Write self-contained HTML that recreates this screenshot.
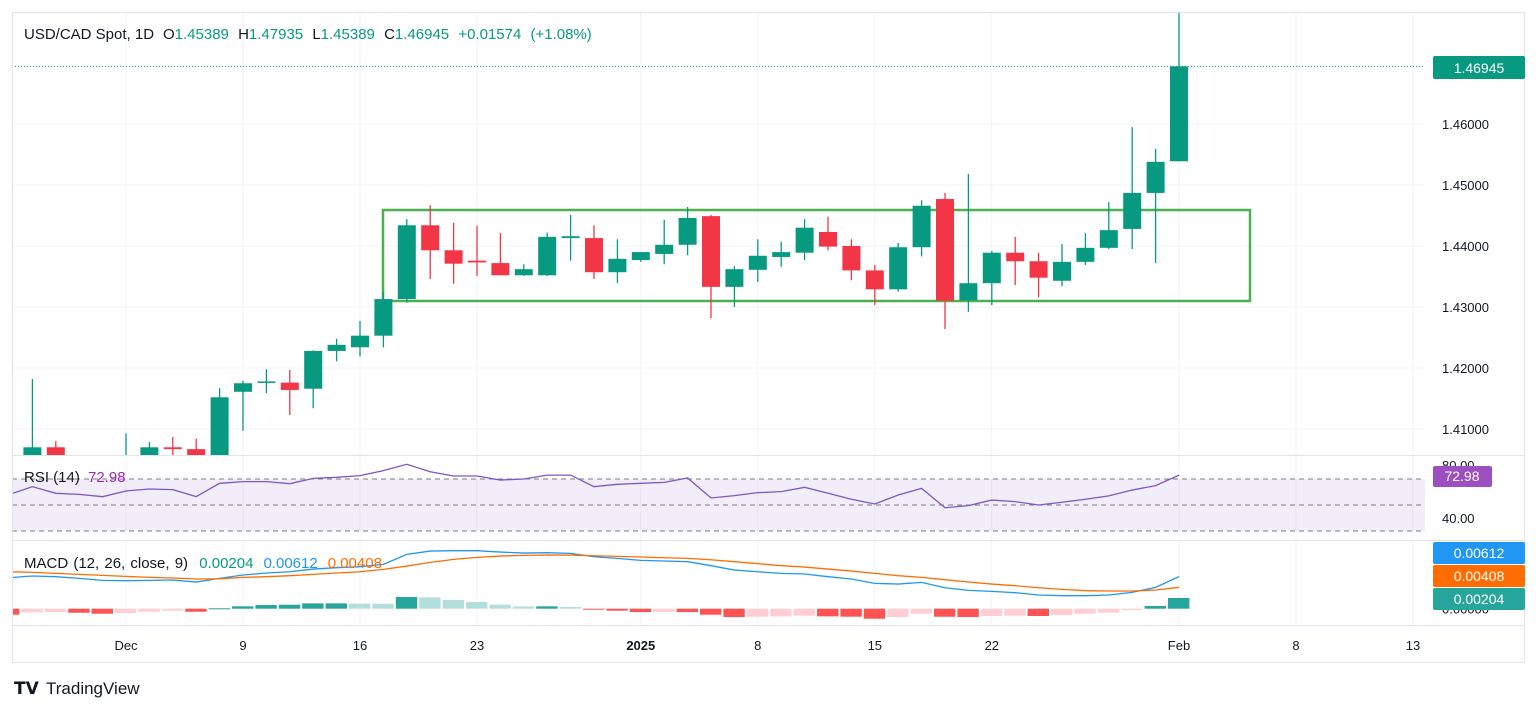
<!DOCTYPE html>
<html><head><meta charset="utf-8"><style>
html,body{margin:0;padding:0;background:#fff;width:1536px;height:711px;overflow:hidden;font-family:"Liberation Sans",sans-serif;}
svg text{font-family:"Liberation Sans",sans-serif;}
</style></head><body>
<svg id="chart" width="1536" height="711" xmlns="http://www.w3.org/2000/svg">
<defs>
<clipPath id="cpMain"><rect x="12" y="12" width="1413" height="443"/></clipPath>
<clipPath id="cpRsi"><rect x="12" y="456" width="1413" height="84"/></clipPath>
<clipPath id="cpMacd"><rect x="12" y="541" width="1413" height="84"/></clipPath>
</defs>
<g id="grid"></g>
<g id="main" clip-path="url(#cpMain)"></g>
<g id="rsi" clip-path="url(#cpRsi)"></g>
<g id="macd" clip-path="url(#cpMacd)"></g>
<g id="axes"></g>
<text x="24" y="39" font-size="15" fill="#131722">USD/CAD Spot, 1D</text>
<text x="163" y="39" font-size="15" word-spacing="5" fill="#131722"><tspan fill="#131722">O</tspan><tspan fill="#089981">1.45389</tspan> <tspan fill="#131722">H</tspan><tspan fill="#089981">1.47935</tspan> <tspan fill="#131722">L</tspan><tspan fill="#089981">1.45389</tspan> <tspan fill="#131722">C</tspan><tspan fill="#089981">1.46945</tspan> <tspan fill="#089981">+0.01574 (+1.08%)</tspan></text>
<text x="24" y="482" font-size="15" fill="#131722">RSI (14) <tspan fill="#9c27b0" dx="4">72.98</tspan></text>
<text x="24" y="568" font-size="15" word-spacing="1" fill="#131722">MACD (12, 26, close, 9) <tspan fill="#089981" dx="6">0.00204</tspan><tspan fill="#2196f3" dx="10">0.00612</tspan><tspan fill="#ff6d00" dx="10">0.00408</tspan></text>
<g>
<text x="14" y="694" font-size="17" font-weight="bold" fill="#131722">𝗧𝗩</text>
<text x="46" y="694" font-size="17" fill="#131722">TradingView</text>
</g>
</svg>
<script>
const opens=[1.4040,1.4070,1.4030,1.4010,1.4000,1.4030,1.4070,1.4067,1.4030,1.4161,1.4177,1.4176,1.4166,1.4228,1.4234,1.4253,1.4313,1.4434,1.4393,1.4376,1.4372,1.4352,1.4352,1.4413,1.4413,1.4357,1.4377,1.4387,1.4402,1.4449,1.4333,1.4361,1.4382,1.4389,1.4423,1.4400,1.4360,1.4329,1.4398,1.4477,1.4311,1.4339,1.4389,1.4375,1.4343,1.4374,1.4397,1.4428,1.4487,1.45389];
const highs=[1.4182,1.4080,1.4035,1.4030,1.4093,1.4079,1.4087,1.4084,1.4167,1.4179,1.4198,1.4197,1.4229,1.4248,1.4277,1.4325,1.4444,1.4467,1.4438,1.4433,1.4421,1.4370,1.4422,1.4451,1.4434,1.4411,1.4390,1.4443,1.4464,1.4451,1.4367,1.4411,1.4407,1.4444,1.4448,1.4411,1.4369,1.4405,1.4475,1.4487,1.4518,1.4392,1.4415,1.4389,1.4403,1.4421,1.4472,1.4595,1.4559,1.47935];
const lows=[1.4010,1.4020,1.3990,1.3985,1.3990,1.4010,1.4030,1.4020,1.4010,1.4097,1.4159,1.4123,1.4134,1.4211,1.4219,1.4234,1.4307,1.4346,1.4338,1.4351,1.4352,1.4351,1.4351,1.4376,1.4346,1.4339,1.4374,1.4370,1.4385,1.4282,1.4300,1.4341,1.4366,1.4377,1.4393,1.4344,1.4303,1.4325,1.4383,1.4264,1.4292,1.4303,1.4336,1.4316,1.4334,1.4369,1.4395,1.4395,1.4372,1.45389];
const closes=[1.4070,1.4030,1.4010,1.4000,1.4030,1.4070,1.4067,1.4030,1.4152,1.4175,1.4178,1.4164,1.4228,1.4238,1.4253,1.4313,1.4434,1.4393,1.4371,1.4373,1.4352,1.4362,1.4415,1.4416,1.4357,1.4379,1.4390,1.4402,1.4446,1.4333,1.4362,1.4384,1.4390,1.4430,1.4399,1.4360,1.4329,1.4398,1.4466,1.4310,1.4339,1.4389,1.4375,1.4348,1.4374,1.4397,1.4426,1.4487,1.4538,1.46945];
// indicator arrays start one bar earlier than candles (bar -1)
const rsiVals=[58,64.1,59,58.2,56.4,60.8,62.3,61.8,56.4,66.7,68,68,66.4,70.5,71.3,72.6,76.4,81.3,75.6,72.3,72.3,69.2,70,73,73,64.1,65.9,66.7,67.4,70.8,55.4,57.2,59.5,60.3,63.6,59,54.4,50.8,57.7,62.8,47.9,49.5,53.8,52.6,50,52.1,54.4,57,61.5,64.9,72.98];
const macdVals=[0.00591,0.00623,0.00610,0.00578,0.00540,0.00534,0.00540,0.00547,0.00508,0.00578,0.00642,0.00680,0.00705,0.00756,0.00782,0.00801,0.00845,0.01036,0.01099,0.01106,0.01106,0.01080,0.01061,0.01068,0.01055,0.00991,0.00960,0.00921,0.00909,0.00896,0.00820,0.00737,0.00705,0.00674,0.00661,0.00610,0.00566,0.00483,0.00470,0.00502,0.00400,0.00350,0.00330,0.00305,0.00261,0.00248,0.00248,0.00261,0.00311,0.00407,0.00612];
const signalVals=[0.00705,0.00693,0.00674,0.00655,0.00636,0.00616,0.00597,0.00585,0.00566,0.00570,0.00597,0.00610,0.00629,0.00655,0.00680,0.00705,0.00750,0.00813,0.00883,0.00940,0.00979,0.01004,0.01017,0.01023,0.01023,0.01010,0.00998,0.00985,0.00972,0.00960,0.00934,0.00896,0.00858,0.00820,0.00794,0.00756,0.00718,0.00674,0.00629,0.00597,0.00553,0.00509,0.00470,0.00439,0.00400,0.00369,0.00343,0.00337,0.00337,0.00356,0.00408];
const priceTicks=[1.46,1.45,1.44,1.43,1.42,1.41];
const timeLabels=["Dec","9","16","23","2025","8","15","22","Feb","8","13"];
const timeLabelIdx=[4,9,14,19,26,31,36,41,49,54,59];

const NS="http://www.w3.org/2000/svg";
function mk(tag,attrs,parent){const e=document.createElementNS(NS,tag);for(const k in attrs)e.setAttribute(k,attrs[k]);parent.appendChild(e);return e;}
const xOf=i=>32.4+i*23.4;
const xInd=i=>xOf(i-1);
const yP=p=>124+(1.46-p)*6100;
const yR=v=>479-(v-70)*1.3;
const yM=v=>608.7-v*5245;
const G=document.getElementById('grid'),M=document.getElementById('main'),R=document.getElementById('rsi'),D=document.getElementById('macd'),A=document.getElementById('axes');

let fr=mk('rect',{x:12.5,y:12.5,width:1512,height:650,fill:'none',stroke:'#e0e3eb'},A);


timeLabelIdx.forEach((idx,k)=>{
  const gl=mk('line',{x1:xOf(idx),x2:xOf(idx),y1:12,y2:625,stroke:'#f0f3fa'},G);
  
  
  const t=mk('text',{x:xOf(idx),y:650,'text-anchor':'middle','font-size':13,fill:'#131722','font-weight':timeLabels[k]==='2025'?'bold':'normal'},A);
  t.textContent=timeLabels[k];
  
  
});
priceTicks.forEach(p=>{
  const gl=mk('line',{x1:12,x2:1425,y1:yP(p),y2:yP(p),stroke:'#f0f3fa'},G);
  
  
  const t=mk('text',{x:1442,y:yP(p)+5,'font-size':13,fill:'#131722'},A);
  t.textContent=p.toFixed(5);
  
  
});
[455.5,540.5,625.5].forEach(y=>{
  const l=mk('line',{x1:12,x2:1525,y1:y,y2:y,stroke:'#e0e3eb'},A);
  
  
});
const box=mk('rect',{x:383,y:210,width:867,height:91,fill:'none',stroke:'#4caf50','stroke-width':2.5},M);


const lp=mk('line',{x1:12,x2:1425,y1:yP(closes[closes.length-1]),y2:yP(closes[closes.length-1]),stroke:'#089981','stroke-dasharray':'1 2'},M);


for(let i=0;i<opens.length;i++){
  const up=closes[i]>=opens[i];const col=up?'#089981':'#f23645';const x=xOf(i);
  const w=mk('line',{x1:x,x2:x,y1:yP(highs[i]),y2:yP(lows[i]),stroke:col,'stroke-width':1.3},M);
  
  
  const t=Math.min(yP(opens[i]),yP(closes[i])),h=Math.max(1.5,Math.abs(yP(opens[i])-yP(closes[i])));
  const b=mk('rect',{x:x-9,y:t,width:18,height:h,fill:col},M);
  
  
}
const pb=mk('rect',{x:1433,y:56,width:92,height:23,rx:2,fill:'#089981'},A);


let pt=mk('text',{x:1479,y:73,'text-anchor':'middle','font-size':14,fill:'#fff'},A);pt.textContent=closes[closes.length-1].toFixed(5);



const band=mk('rect',{x:12,y:yR(70),width:1413,height:yR(30)-yR(70),fill:'rgba(126,87,194,0.1)'},R);


[70,50,30].forEach(v=>{const l=mk('line',{x1:12,x2:1425,y1:yR(v),y2:yR(v),stroke:'#787b86','stroke-dasharray':'5 4'},R);

});
const rp=mk('polyline',{points:rsiVals.map((v,i)=>xInd(i)+','+yR(v)).join(' '),fill:'none',stroke:'#7e57c2','stroke-width':1.3},R);


let t80=mk('text',{x:1442,y:yR(80)+4,'font-size':13,fill:'#131722'},A);t80.textContent='80.00';


let t40=mk('text',{x:1442,y:yR(40)+5,'font-size':13,fill:'#131722'},A);t40.textContent='40.00';


const rb=mk('rect',{x:1433,y:466,width:59,height:21,rx:2,fill:'#9c4fc0'},A);


let rt=mk('text',{x:1462,y:481,'text-anchor':'middle','font-size':14,fill:'#fff'},A);rt.textContent=rsiVals[rsiVals.length-1].toFixed(2);



for(let i=0;i<macdVals.length;i++){
  const h=macdVals[i]-signalVals[i];const prev=i>0?macdVals[i-1]-signalVals[i-1]:h*0.9;
  let col;
  if(h>=0) col=h>=prev?'#26a69a':'#b2dfdb'; else col=h<prev?'#ff5252':'#ffcdd2';
  const y0=yM(0),y1=yM(h);
  const r=mk('rect',{x:xInd(i)-11,y:Math.min(y0,y1),width:21.4,height:Math.max(1,Math.abs(y1-y0)),fill:col},D);
  
  
}
const ml=mk('polyline',{points:macdVals.map((v,i)=>xInd(i)+','+yM(v)).join(' '),fill:'none',stroke:'#2196f3','stroke-width':1.3},D);


const sl=mk('polyline',{points:signalVals.map((v,i)=>xInd(i)+','+yM(v)).join(' '),fill:'none',stroke:'#ff6d00','stroke-width':1.3},D);


let tz=mk('text',{x:1442,y:yM(0)+5,'font-size':13,fill:'#131722'},A);tz.textContent='0.00000';


const last=macdVals.length-1;
const badges=[[macdVals[last],'#2196f3',542],[signalVals[last],'#ff6d00',565],[macdVals[last]-signalVals[last],'#26a69a',588]];
badges.forEach(b=>{
  const r=mk('rect',{x:1433,y:b[2],width:92,height:22,rx:2,fill:b[1]},A);
  
  
  const t=mk('text',{x:1479,y:b[2]+16,'text-anchor':'middle','font-size':14,fill:'#fff'},A);t.textContent=b[0].toFixed(5);
  
  
});
</script>
</body></html>
